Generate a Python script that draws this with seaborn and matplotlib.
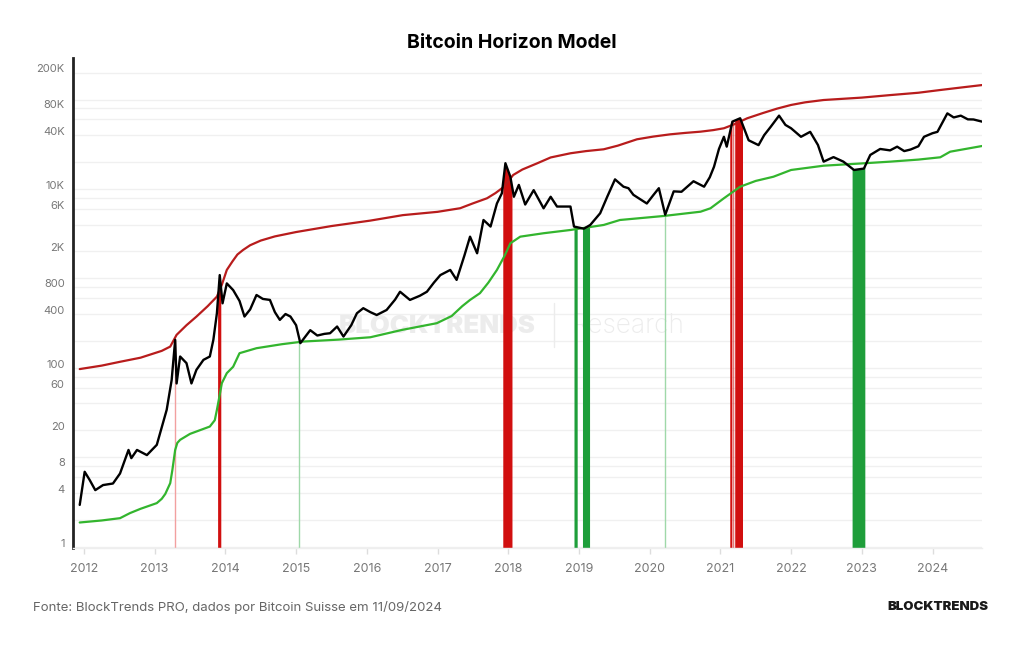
import numpy as np
import pandas as pd
import seaborn as sns
import matplotlib.pyplot as plt
from matplotlib.transforms import ScaledTranslation

# Upper bound (red) curve
upper_dates = [2011.94, 2012.25, 2012.51, 2012.8, 2013.1, 2013.22, 2013.31, 2013.45, 2013.59,
               2013.75, 2013.88, 2013.95, 2014.02, 2014.1, 2014.17, 2014.25, 2014.35, 2014.5,
               2014.7, 2015.0, 2015.5, 2016.05, 2016.51, 2017.0, 2017.32, 2017.5, 2017.70,
               2017.82, 2017.93, 2018.0, 2018.07, 2018.2, 2018.41, 2018.6, 2018.88, 2019.1,
               2019.35, 2019.55, 2019.82, 2020.05, 2020.29, 2020.5, 2020.72, 2020.9, 2021.05,
               2021.2, 2021.38, 2021.6, 2021.8, 2022.0, 2022.2, 2022.46, 2023.0, 2023.4,
               2023.8, 2024.11, 2024.4, 2024.70]
upper_vals = [97, 106, 117, 130, 155, 173, 234, 300, 374,
              490, 626, 850, 1244, 1550, 1850, 2080, 2350, 2650,
              2950, 3300, 3850, 4430, 5100, 5550, 6090, 6900, 7870,
              9000, 10440, 12200, 14330, 16500, 19360, 22500, 25060, 26500,
              27760, 30500, 35900, 38500, 40800, 42300, 43700, 45500, 47700,
              53000, 61700, 70500, 79000, 86900, 93000, 98700, 105000, 112000,
              119000, 127700, 136000, 145000]

# Lower bound (green) curve
lower_dates = [2011.94, 2012.25, 2012.51, 2012.65, 2012.8, 2013.03, 2013.1, 2013.15, 2013.22,
               2013.25, 2013.29, 2013.32, 2013.36, 2013.5, 2013.78, 2013.85, 2013.88, 2013.92,
               2013.95, 2014.02, 2014.11, 2014.2, 2014.44, 2014.8, 2015.1, 2015.6, 2016.05,
               2016.5, 2016.99, 2017.2, 2017.35, 2017.46, 2017.6, 2017.72, 2017.84, 2017.95,
               2018.03, 2018.17, 2018.5, 2018.88, 2019.35, 2019.58, 2020.2, 2020.72, 2020.86,
               2021.05, 2021.28, 2021.5, 2021.75, 2022.0, 2022.46, 2023.0, 2023.4, 2023.8,
               2024.11, 2024.25, 2024.70]
lower_vals = [1.87, 1.97, 2.09, 2.38, 2.66, 3.08, 3.44, 3.9, 5.15,
              7.2, 12.1, 14.5, 15.7, 18.3, 22.1, 26, 33.9, 50,
              67.5, 87.3, 103, 146, 166, 184, 197, 207, 220,
              266, 316, 380, 490, 575, 684, 900, 1244, 1800,
              2470, 2930, 3200, 3480, 3960, 4500, 4990, 5570, 6080,
              7870, 10600, 12300, 13700, 16300, 18200, 19300, 20200, 21300,
              22600, 26100, 30200]

# Bitcoin price (black)
price_dates = [2011.94, 2012.01, 2012.08, 2012.16, 2012.27, 2012.41, 2012.51, 2012.63,
               2012.67, 2012.75, 2012.89, 2013.03, 2013.17, 2013.24, 2013.29, 2013.31,
               2013.36, 2013.45, 2013.52, 2013.59, 2013.69, 2013.78, 2013.83, 2013.88,
               2013.92, 2013.96, 2014.02, 2014.11, 2014.2, 2014.27, 2014.35, 2014.44, 2014.53,
               2014.63, 2014.7, 2014.77, 2014.85, 2014.92, 2015.0, 2015.06, 2015.2, 2015.3,
               2015.4, 2015.48, 2015.58, 2015.67, 2015.78, 2015.86, 2015.95, 2016.05,
               2016.14, 2016.28, 2016.4, 2016.47, 2016.61, 2016.75, 2016.85, 2016.95, 2017.04,
               2017.18, 2017.27, 2017.38, 2017.46, 2017.56, 2017.65, 2017.75, 2017.84, 2017.91,
               2017.96, 2018.03, 2018.08, 2018.15, 2018.24, 2018.36, 2018.5, 2018.6, 2018.69,
               2018.88, 2018.93, 2019.0, 2019.07, 2019.16, 2019.3, 2019.4, 2019.51, 2019.63,
               2019.7, 2019.77, 2019.96, 2020.05, 2020.13, 2020.22, 2020.34, 2020.45, 2020.62,
               2020.77, 2020.85, 2020.91, 2020.98, 2021.05, 2021.09, 2021.17, 2021.28, 2021.4,
               2021.54, 2021.62, 2021.71, 2021.83, 2021.92, 2022.0, 2022.14, 2022.27, 2022.38,
               2022.46, 2022.6, 2022.74, 2022.89, 2023.03, 2023.12, 2023.26, 2023.4, 2023.5,
               2023.6, 2023.69, 2023.8, 2023.88, 2024.0, 2024.07, 2024.21, 2024.3, 2024.4,
               2024.5, 2024.58, 2024.70]
price_vals = [2.94, 6.9, 5.6, 4.3, 4.9, 5.1, 6.6, 12.1,
              9.8, 12.1, 10.6, 13.8, 34, 73, 206, 67,
              134, 113, 67, 95, 123, 134, 206, 408,
              1090, 527, 880, 741, 560, 375, 450, 653, 590,
              575, 420, 344, 400, 375, 300, 189, 264, 230,
              240, 244, 290, 224, 300, 408, 465, 420,
              390, 444, 580, 710, 575, 640, 710, 900, 1090,
              1244, 963, 1800, 2930, 1910, 4500, 3800, 6880, 8950,
              19400, 13700, 8180, 11100, 6700, 9700, 6080, 8180, 6360,
              6360, 3800, 3700, 3600, 3960, 5350, 8180, 12800, 10600,
              10200, 8600, 6880, 8500, 10200, 5150, 9400, 9300, 12200,
              10600, 13500, 17700, 28000, 38300, 29700, 56600, 61700, 35000,
              30900, 40000, 49300, 66000, 52000, 47700, 38300, 43500, 31000,
              20200, 22700, 20200, 16300, 16900, 24000, 28000, 27000, 29700,
              26500, 27600, 30000, 38300, 42000, 43500, 70000, 63000, 66000,
              60000, 59800, 56600]

# Signal periods (price above upper / below lower bound)
red_starts = [2013.89, 2017.93, 2021.14, 2021.185, 2021.21]
red_ends = [2013.935, 2018.06, 2021.17, 2021.195, 2021.32]
green_starts = [2018.93, 2019.05, 2022.87]
green_ends = [2018.975, 2019.15, 2023.05]
red_thin = [2013.29]
green_thin = [2015.04, 2020.22]

y_label_vals = [1, 4, 8, 20, 60, 100, 400, 800, 2000, 6000, 10000, 40000, 80000, 200000]
y_label_text = ['1', '4', '8', '20', '60', '100', '400', '800', '2K', '6K', '10K', '40K', '80K', '200K']
grid_vals = [1, 2, 4, 6, 8, 10, 20, 40, 60, 80, 100, 200, 400, 600, 800, 1000, 2000, 4000,
             6000, 8000, 10000, 20000, 40000, 60000, 80000, 100000, 200000]
years = list(range(2012, 2025))

sns.set_style('white')
plt.rcParams['font.family'] = ['Inter', 'DejaVu Sans']

RED_LINE = '#b81c1c'
RED_BAND = '#d10f0f'
GREEN_LINE = '#33b52e'
GREEN_BAND = '#1e9e3a'

fig = plt.figure(figsize=(10.24, 6.45), dpi=100)
ax = fig.add_axes([73 / 1024, 1 - 548 / 645, (982 - 73) / 1024, (548 - 58) / 645])

for v in grid_vals:
    ax.axhline(v, color='#f0f0f0', lw=1, zorder=0)

# watermark
ax.text(0.401, 0.453, 'BLOCKTRENDS', transform=ax.transAxes, fontsize=18.5, fontweight='black',
        color='#ececec', ha='center', va='center', zorder=0.5)
ax.text(0.61, 0.453, 'Research', transform=ax.transAxes, fontsize=19, fontweight='light',
        color='#ececec', ha='center', va='center', zorder=0.5)
ax.plot([0.529, 0.529], [0.41, 0.5], transform=ax.transAxes, color='#ececec', lw=1, zorder=0.5)

log_dates = np.array(price_dates)
log_price = np.log10(price_vals)

def price_at(d):
    return 10 ** np.interp(d, log_dates, log_price)

for s, e in zip(red_starts, red_ends):
    xs = np.linspace(s, e, 10)
    ax.fill_between(xs, 1e-3, price_at(xs), color=RED_BAND, lw=0, zorder=1)
for s, e in zip(green_starts, green_ends):
    xs = np.linspace(s, e, 10)
    ax.fill_between(xs, 1e-3, price_at(xs), color=GREEN_BAND, lw=0, zorder=1)
ax.vlines(red_thin, 1e-3, price_at(np.array(red_thin)), color='#f2a0a0', lw=1, zorder=1)
ax.vlines(green_thin, 1e-3, price_at(np.array(green_thin)), color='#9fd8a9', lw=1, zorder=1)

upper = pd.DataFrame({'date': upper_dates, 'value': upper_vals})
lower = pd.DataFrame({'date': lower_dates, 'value': lower_vals})
price = pd.DataFrame({'date': price_dates, 'value': price_vals})

sns.lineplot(data=upper, x='date', y='value', color=RED_LINE, lw=1.6, ax=ax, zorder=3)
sns.lineplot(data=lower, x='date', y='value', color=GREEN_LINE, lw=1.6, ax=ax, zorder=3)
sns.lineplot(data=price, x='date', y='value', color='black', lw=1.7, ax=ax, zorder=4)

ax.set_yscale('log')
ax.set_ylim(0.97, 291000)
ax.set_xlim(2011.845, 2024.70)
ax.set_yticks(y_label_vals)
ax.set_yticklabels(y_label_text)
ax.yaxis.set_minor_locator(plt.NullLocator())
ax.set_xticks(years)
ax.set_xticklabels([str(y) for y in years])
ax.set_xlabel('')
ax.set_ylabel('')

ax.tick_params(axis='y', length=0, pad=6, labelsize=8, labelcolor='#777777')
ax.tick_params(axis='x', length=4, width=1, color='#dddddd', pad=7, labelsize=9,
               labelcolor='#777777', bottom=True)
for lab in ax.get_yticklabels():
    lab.set_transform(lab.get_transform() + ScaledTranslation(0, 3 / 72, fig.dpi_scale_trans))

for side in ['top', 'right']:
    ax.spines[side].set_visible(False)
ax.spines['bottom'].set_color('#eeeeee')
ax.spines['bottom'].set_linewidth(1)
ax.spines['left'].set_color('#222222')
ax.spines['left'].set_linewidth(2)

fig.text(0.5, 1 - 43 / 645, 'Bitcoin Horizon Model', ha='center', va='center',
         fontsize=14, fontweight='bold', color='black')
fig.text(33 / 1024, 1 - 607 / 645, 'Fonte: BlockTrends PRO, dados por Bitcoin Suisse em 11/09/2024',
         ha='left', va='center', fontsize=9.5, color='#666666')
fig.text(988 / 1024, 1 - 607 / 645, 'BLOCKTRENDS', ha='right', va='center',
         fontsize=9.5, fontweight='black', color='#1a1a1a')

fig.savefig('out.png', dpi=100, facecolor='white')
